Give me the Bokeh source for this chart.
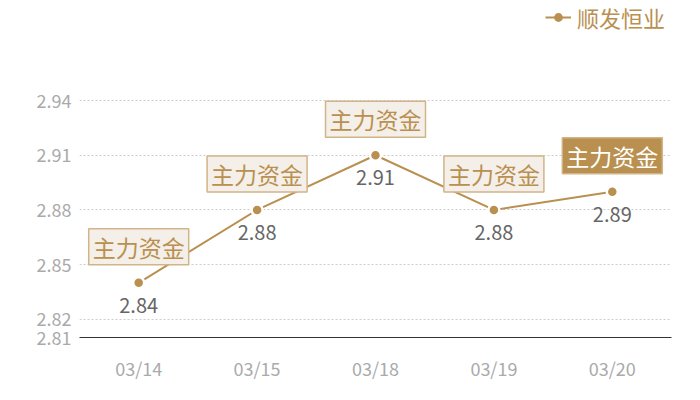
from bokeh.plotting import figure
from bokeh.models import ColumnDataSource, FixedTicker, Legend, LegendItem, Range1d
from bokeh.core.properties import value
from bokeh.embed import file_html
from bokeh.resources import INLINE

dates = ["03/14", "03/15", "03/18", "03/19", "03/20"]
prices = [2.84, 2.88, 2.91, 2.88, 2.89]
tags = ["主力资金", "主力资金", "主力资金", "主力资金", "主力资金"]
series_name = "顺发恒业"
y_ticks = [2.81, 2.82, 2.85, 2.88, 2.91, 2.94]

GOLD = "#b9904f"
FONT = "Noto Sans CJK SC"

src = ColumnDataSource(dict(
    d=dates, v=prices, t=tags,
    lbl=["%.2f" % v for v in prices],
))
src_plain = ColumnDataSource(dict(d=dates[:-1], v=prices[:-1], t=tags[:-1]))
src_hi = ColumnDataSource(dict(d=dates[-1:], v=prices[-1:], t=tags[-1:]))

p = figure(x_range=dates, y_range=Range1d(2.81, 2.9949), width=684, height=384,
           output_backend="svg", toolbar_location=None,
           min_border_left=79, min_border_right=13, min_border_top=0, min_border_bottom=47)
p.outline_line_color = None
p.background_fill_color = "white"

line = p.line("d", "v", source=src, line_color=GOLD, line_width=2)
pts = p.scatter("d", "v", source=src, size=11, fill_color=GOLD, line_color="white", line_width=2.5)
leg_line = p.line("d", "v", source=src, line_color=GOLD, line_width=2, visible=False)
leg_pt = p.scatter("d", "v", source=src, size=11, fill_color=GOLD, line_color=GOLD, line_width=0,
                   visible=False)

p.text("d", "v", text="lbl", source=src, text_font=value(FONT), text_font_size="20px",
       text_color="#666666", text_align="center", text_baseline="top", y_offset=15)

p.text("d", "v", text="t", source=src_plain, text_font=value(FONT), text_font_size="23px",
       text_color=GOLD, text_align="center", text_baseline="bottom", y_offset=-18,
       background_fill_color="#f4efe8", border_line_color="#d2b489", border_line_width=1.5,
       padding=(4, 1))
p.text("d", "v", text="t", source=src_hi, text_font=value(FONT), text_font_size="23px",
       text_color="white", text_align="center", text_baseline="bottom", y_offset=-18,
       background_fill_color=GOLD, border_line_color="#d2b489", border_line_width=1.5,
       padding=(4, 1))

p.yaxis.ticker = FixedTicker(ticks=y_ticks)
p.yaxis.axis_line_color = None
p.yaxis.major_tick_line_color = None
p.yaxis.minor_tick_line_color = None
p.yaxis.major_tick_out = 0
p.yaxis.major_tick_in = 0
p.yaxis.major_label_text_color = "#aaaaaa"
p.yaxis.major_label_text_font = FONT
p.yaxis.major_label_text_font_size = "18px"
p.yaxis.major_label_standoff = 8

p.xaxis.axis_line_color = "#333333"
p.xaxis.axis_line_width = 1
p.xaxis.major_tick_line_color = None
p.xaxis.minor_tick_line_color = None
p.xaxis.major_tick_out = 0
p.xaxis.major_tick_in = 0
p.xaxis.major_label_text_color = "#aaaaaa"
p.xaxis.major_label_text_font = FONT
p.xaxis.major_label_text_font_size = "18px"
p.xaxis.major_label_standoff = 17

p.xgrid.grid_line_color = None
p.ygrid.ticker = FixedTicker(ticks=y_ticks[1:])
p.ygrid.grid_line_color = "#cccccc"
p.ygrid.grid_line_dash = "2 2"

legend = Legend(items=[LegendItem(label=series_name, renderers=[leg_line, leg_pt])],
                location=(466, 304), label_text_font=FONT, label_text_font_size="22px",
                label_text_color=GOLD, glyph_width=26, glyph_height=22, padding=0, margin=0,
                border_line_color=None, background_fill_alpha=0, label_standoff=6)
p.add_layout(legend, "center")

open("out.html", "w").write(file_html(p, INLINE))
